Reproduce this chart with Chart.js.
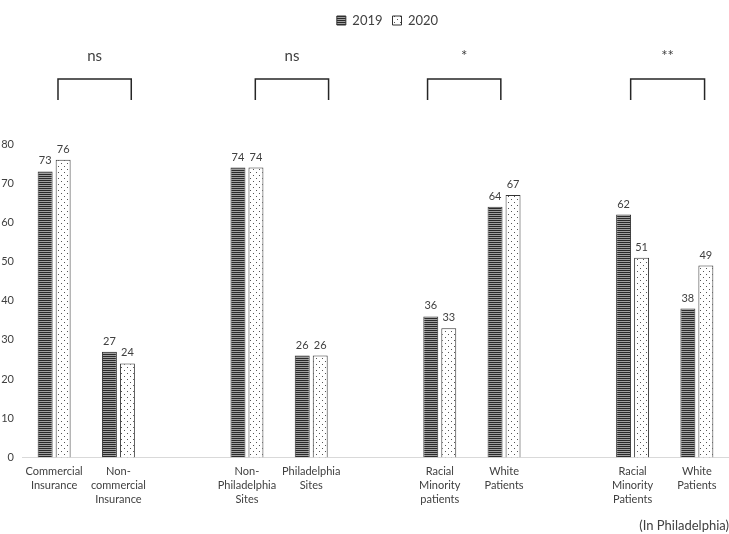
<!DOCTYPE html>
<html lang="en">
<head>
  <meta charset="UTF-8">
  <title>2019 vs 2020</title>
  <style type="text/css">
    body, html {
      margin: 0;
      padding: 0;
      background-color: #fff;
    }
    .chart-box {
      width: 729px;
      height: 534px;
      position: relative;
    }
  </style>
  <script src="https://cdn.jsdelivr.net/npm/chart.js"></script>
</head>
<body>
  <div class="chart-box">
    <canvas id="bar-chart"></canvas>
  </div>

  <script>
    // categories (empty slots are the gaps between groups)
    const categories = [
      ['Commercial', 'Insurance'],
      ['Non-', 'commercial', 'Insurance'],
      '',
      ['Non-', 'Philadelphia', 'Sites'],
      ['Philadelphia', 'Sites'],
      '',
      ['Racial', 'Minority', 'patients'],
      ['White', 'Patients'],
      '',
      ['Racial', 'Minority', 'Patients'],
      ['White', 'Patients']
    ];
    const values2019 = [73, 27, null, 74, 26, null, 36, 64, null, 62, 38];
    const values2020 = [76, 24, null, 74, 26, null, 33, 67, null, 51, 49];
    const yTicks = [0, 10, 20, 30, 40, 50, 60, 70, 80];

    // significance brackets: from / to as positions on the category axis
    const bracketFrom = [0.06, 3.13, 5.81, 8.97];
    const bracketTo = [1.2, 4.27, 6.95, 10.12];
    const bracketText = ['ns', 'ns', '*', '**'];

    const textColor = '#404040';
    const fontFamily = 'Lato, "Open Sans", sans-serif';
    const legendShift = 23; // legend sits a bit right of centre in the original

    // striped fill for 2019
    function stripePattern() {
      const c = document.createElement('canvas');
      c.width = 4;
      c.height = 2;
      const g = c.getContext('2d');
      g.fillStyle = '#a0a0a0';
      g.fillRect(0, 0, 4, 2);
      g.fillStyle = '#2a2a2a';
      g.fillRect(0, 0, 4, 1);
      return g.createPattern(c, 'repeat');
    }

    // dotted fill for 2020
    function dotPattern() {
      const c = document.createElement('canvas');
      c.width = 6;
      c.height = 6;
      const g = c.getContext('2d');
      g.fillStyle = '#ffffff';
      g.fillRect(0, 0, 6, 6);
      g.fillStyle = '#555555';
      g.fillRect(1, 1, 1, 1);
      g.fillRect(4, 4, 1, 1);
      return g.createPattern(c, 'repeat');
    }

    // numbers above the bars
    const valueLabels = {
      id: 'valueLabels',
      afterDatasetsDraw(chart) {
        const ctx = chart.ctx;
        ctx.save();
        ctx.font = '11px ' + fontFamily;
        ctx.fillStyle = textColor;
        ctx.textAlign = 'center';
        ctx.textBaseline = 'bottom';
        chart.data.datasets.forEach((ds, di) => {
          const meta = chart.getDatasetMeta(di);
          meta.data.forEach((bar, i) => {
            if (ds.data[i] == null) return;
            ctx.fillText(ds.data[i], bar.x, bar.y - 5);
          });
        });
        ctx.restore();
      }
    };

    // brackets with significance marks above the groups
    const brackets = {
      id: 'brackets',
      afterLayout(chart) {
        if (chart.legend) {
          chart.legend.left += legendShift;
          chart.legend.right += legendShift;
        }
      },
      afterDraw(chart) {
        const ctx = chart.ctx;
        const xs = chart.scales.x;
        const top = chart.chartArea.top;
        ctx.save();
        ctx.strokeStyle = '#262626';
        ctx.lineWidth = 1.5;
        ctx.fillStyle = textColor;
        ctx.font = '15px ' + fontFamily;
        ctx.textAlign = 'center';
        ctx.textBaseline = 'middle';
        bracketText.forEach((t, i) => {
          const x1 = xs.getPixelForValue(bracketFrom[i]);
          const x2 = xs.getPixelForValue(bracketTo[i]);
          ctx.beginPath();
          ctx.moveTo(x1, top - 44);
          ctx.lineTo(x1, top - 65);
          ctx.lineTo(x2, top - 65);
          ctx.lineTo(x2, top - 44);
          ctx.stroke();
          ctx.fillText(t, (x1 + x2) / 2, top - 88);
        });
        ctx.restore();
      }
    };

    const ctx = document.getElementById('bar-chart').getContext('2d');
    const chart = new Chart(ctx, {
      type: 'bar',
      data: {
        labels: categories,
        datasets: [{
          label: '2019',
          data: values2019,
          backgroundColor: stripePattern(),
          borderColor: '#333333',
          borderWidth: 1
        }, {
          label: '2020',
          data: values2020,
          backgroundColor: dotPattern(),
          borderColor: '#333333',
          borderWidth: 1
        }]
      },
      options: {
        responsive: true,
        maintainAspectRatio: false,
        animation: false,
        categoryPercentage: 0.56,
        barPercentage: 0.83,
        layout: {
          padding: { top: 4, right: 0, bottom: 0, left: 0 }
        },
        plugins: {
          legend: {
            position: 'top',
            labels: {
              boxWidth: 9,
              boxHeight: 9,
              padding: 10,
              color: textColor,
              font: { family: fontFamily, size: 13 }
            }
          },
          title: {
            display: true,
            text: '',
            weight: 500,
            padding: { top: 0, bottom: 95 },
            font: { size: 10 }
          },
          tooltip: { enabled: false }
        },
        scales: {
          x: {
            grid: { display: false, drawTicks: false },
            border: { display: true, color: '#d9d9d9' },
            ticks: {
              autoSkip: false,
              maxRotation: 0,
              padding: 7,
              color: textColor,
              font: { family: fontFamily, size: 11, lineHeight: 1.27 }
            },
            title: {
              display: true,
              text: '(In Philadelphia)',
              align: 'end',
              color: textColor,
              padding: { top: 5, bottom: 0 },
              font: { family: fontFamily, size: 13 }
            }
          },
          y: {
            min: 0,
            max: 80,
            afterBuildTicks(axis) {
              axis.ticks = yTicks.map(v => ({ value: v }));
            },
            afterFit(axis) {
              axis.width = 22;
            },
            grid: { display: false, drawTicks: false },
            border: { display: false },
            ticks: {
              padding: 8,
              color: textColor,
              font: { family: fontFamily, size: 11 }
            }
          }
        }
      },
      plugins: [valueLabels, brackets]
    });
  </script>
</body>
</html>
